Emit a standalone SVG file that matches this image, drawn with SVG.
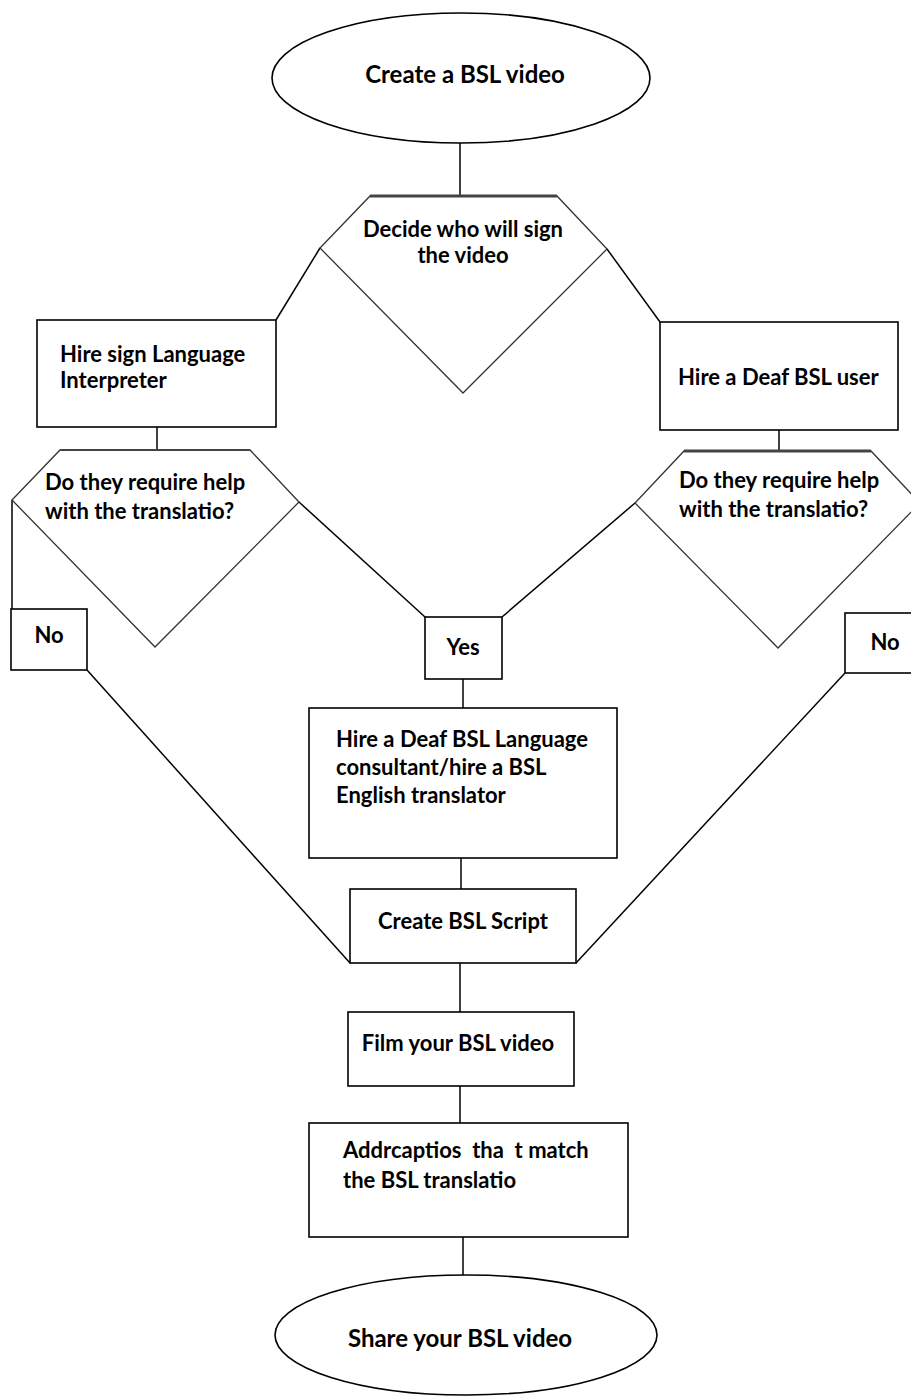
<svg xmlns="http://www.w3.org/2000/svg" width="911" height="1397" viewBox="0 0 911 1397">
<style>
.bg{fill:#fff}
.box{fill:#fff;stroke:#000;stroke-width:1.6}
.dia{fill:#fff;stroke:#333;stroke-width:1.3}
.topedge{stroke:#444;stroke-width:3;fill:none}
.ln{stroke:#000;stroke-width:1.5;fill:none}
text{font-family:Lato,"Liberation Sans",sans-serif;font-weight:bold;font-size:22px;fill:#000}
.big{font-size:24px}
.mid{text-anchor:middle}
.pre{white-space:pre}
</style>
<rect class="bg" x="0" y="0" width="911" height="1397"/>
<g id="connectors">
<line class="ln" x1="460" y1="143" x2="460" y2="196"/>
<line class="ln" x1="320" y1="248" x2="276" y2="320"/>
<line class="ln" x1="607" y1="249" x2="660" y2="322"/>
<line class="ln" x1="157" y1="427" x2="157" y2="450"/>
<line class="ln" x1="779" y1="430" x2="779" y2="451"/>
<line class="ln" x1="12" y1="500" x2="12" y2="609"/>
<line class="ln" x1="299" y1="502" x2="425" y2="617"/>
<line class="ln" x1="635" y1="503" x2="502" y2="617"/>
<line class="ln" x1="463" y1="679" x2="463" y2="708"/>
<line class="ln" x1="461" y1="858" x2="461" y2="889"/>
<line class="ln" x1="87" y1="670" x2="350" y2="963"/>
<line class="ln" x1="845" y1="673" x2="576" y2="963"/>
<line class="ln" x1="460" y1="963" x2="460" y2="1012"/>
<line class="ln" x1="460" y1="1086" x2="460" y2="1123"/>
<line class="ln" x1="463" y1="1237" x2="463" y2="1275"/>
</g>
<g id="start">
<ellipse class="box" cx="461" cy="78" rx="189" ry="65"/>
<text class="big mid" x="465" y="83">Create a BSL video</text>
</g>
<g id="decide">
<polygon class="dia" points="370,196 557,196 607,249 463,393 320,248"/>
<line class="topedge" x1="370" y1="196" x2="557" y2="196"/>
<text class="mid" x="463" y="237">Decide who will sign</text>
<text class="mid" x="463" y="263">the video</text>
</g>
<g id="hire-interpreter">
<rect class="box" x="37" y="320" width="239" height="107"/>
<text x="60" y="362">Hire sign Language</text>
<text x="60" y="388">Interpreter</text>
</g>
<g id="hire-deaf">
<rect class="box" x="660" y="322" width="238" height="108"/>
<text x="678" y="385">Hire a Deaf BSL user</text>
</g>
<g id="help-left">
<polygon class="dia" points="60,450 250,450 299,502 155,647 12,500"/>
<line class="topedge" x1="60" y1="450" x2="250" y2="450" style="stroke-width:2"/>
<text x="45" y="490">Do they require help</text>
<text x="45" y="519">with the translatio?</text>
</g>
<g id="help-right">
<polygon class="dia" points="684,451 871,451 920,503 778,648 635,503"/>
<line class="topedge" x1="684" y1="451" x2="871" y2="451"/>
<text x="679" y="488">Do they require help</text>
<text x="679" y="517">with the translatio?</text>
</g>
<g id="no-left">
<rect class="box" x="11" y="609" width="76" height="61"/>
<text class="mid" x="49" y="643">No</text>
</g>
<g id="yes">
<rect class="box" x="425" y="617" width="77" height="62"/>
<text class="mid" x="463" y="655">Yes</text>
</g>
<g id="no-right">
<rect class="box" x="845" y="613" width="80" height="60"/>
<text class="mid" x="885" y="650">No</text>
</g>
<g id="consultant">
<rect class="box" x="309" y="708" width="308" height="150"/>
<text x="336" y="747">Hire a Deaf BSL Language</text>
<text x="336" y="775">consultant/hire a BSL</text>
<text x="336" y="803">English translator</text>
</g>
<g id="script">
<rect class="box" x="350" y="889" width="226" height="74"/>
<text class="mid" x="463" y="929">Create BSL Script</text>
</g>
<g id="film">
<rect class="box" x="348" y="1012" width="226" height="74"/>
<text class="mid" x="458" y="1051">Film your BSL video</text>
</g>
<g id="captions">
<rect class="box" x="309" y="1123" width="319" height="114"/>
<text class="pre" x="343" y="1158">Addrcaptios  tha  t match</text>
<text x="343" y="1188">the BSL translatio</text>
</g>
<g id="end">
<ellipse class="box" cx="466" cy="1335" rx="191" ry="60"/>
<text class="big mid" x="460" y="1347">Share your BSL video</text>
</g>
</svg>
